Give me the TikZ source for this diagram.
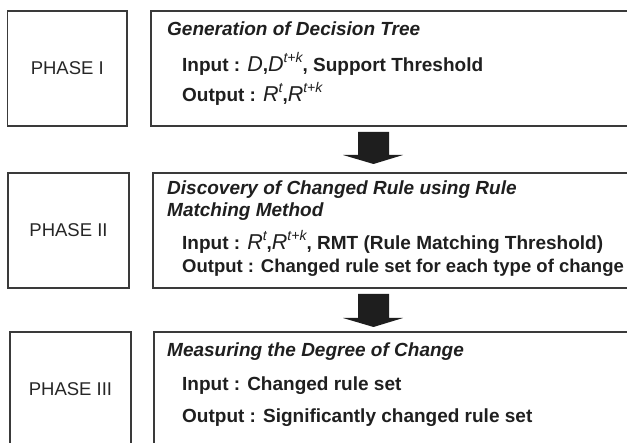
\documentclass[tikz,border=0pt]{standalone}
\usepackage{fontspec}
\setmainfont{Liberation Sans}
\usetikzlibrary{calc}
\definecolor{boxline}{HTML}{3A3A3A}
\definecolor{arrowfill}{HTML}{1E1E1E}
\newcommand{\mv}[1]{{\fontsize{21.5}{24}\selectfont\itshape\mdseries #1}}
\newcommand{\msup}[1]{\raisebox{9.5pt}{\fontsize{14}{15}\selectfont\itshape\mdseries #1}}
\tikzset{
  phasebox/.style={draw=boxline, line width=1.3pt},
  phaselabel/.style={font=\fontsize{18.5}{22}\selectfont, text=black!85, inner sep=0pt},
  titletext/.style={font=\fontsize{19}{22}\selectfont\bfseries\itshape, text=black!88, anchor=base west, inner sep=0pt},
  bodytext/.style={font=\fontsize{19}{22}\selectfont\bfseries, text=black!88, anchor=base west, inner sep=0pt},
  blockarrow/.style={fill=arrowfill, draw=none}
}
\begin{document}
\begin{tikzpicture}[x=1pt,y=-1pt]
\useasboundingbox (0,0) rectangle (627,443);
\clip (0,0) rectangle (627,443);
\fill[white] (0,0) rectangle (627,443);

% Phase I
\draw[phasebox] (7.5,11) rectangle (127,126);
\node[phaselabel] (p1) at (67.25,68.5) {PHASE I};
\draw[phasebox] (151,11) rectangle (660,126);
\node[titletext] (t1) at (167,36) {Generation of Decision Tree};
\node[bodytext] (i1) at (182,72) {Input : \mv{D},\mv{D}\msup{t+k}, Support Threshold};
\node[bodytext] (o1) at (182,102) {Output : \mv{R}\msup{t},\mv{R}\msup{t+k}};

% arrow 1
\fill[blockarrow] (358,132) -- (389,132) -- (389,155) -- (403,155) -- (373.5,164) -- (343,155) -- (358,155) -- cycle;

% Phase II
\draw[phasebox] (8,173) rectangle (129,288);
\node[phaselabel] (p2) at (68.5,230.5) {PHASE II};
\draw[phasebox] (153,173) rectangle (660,288);
\node[titletext] (t2) at (167,195) {Discovery of Changed Rule using Rule};
\node[titletext] (t2b) at (167,217) {Matching Method};
\node[bodytext] (i2) at (182,250) {Input : \mv{R}\msup{t},\mv{R}\msup{t+k}, RMT (Rule Matching Threshold)};
\node[bodytext, font=\fontsize{18.5}{22}\selectfont\bfseries] (o2) at (182,273) {Output : Changed rule set for each type of change};

% arrow 2
\fill[blockarrow] (358,294) -- (389,294) -- (389,318) -- (403,318) -- (373.5,327) -- (343,318) -- (358,318) -- cycle;

% Phase III
\draw[phasebox] (10,332) rectangle (131,450);
\node[phaselabel] (p3) at (70.5,389) {PHASE III};
\draw[phasebox] (154,332) rectangle (660,450);
\node[titletext] (t3) at (167,357) {Measuring the Degree of Change};
\node[bodytext] (i3) at (182,391) {Input : Changed rule set};
\node[bodytext] (o3) at (182,423) {Output : Significantly changed rule set};
\end{tikzpicture}
\end{document}
